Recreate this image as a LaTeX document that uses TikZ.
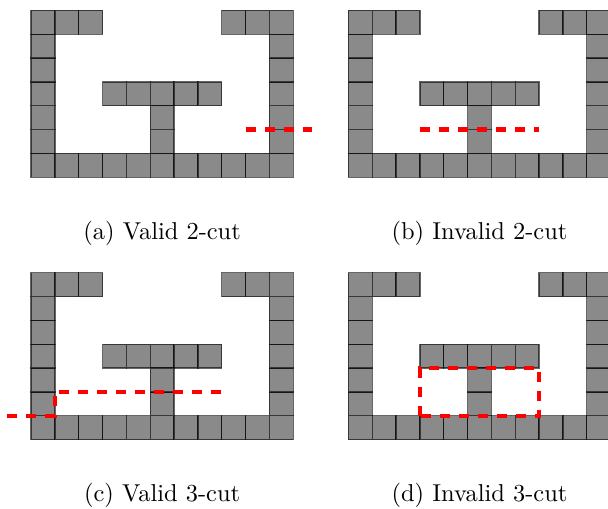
\documentclass[tikz,border=0pt]{standalone}
\tikzset{
  cell/.style={fill={rgb,255:red,138;green,138;blue,138}, draw=black, draw opacity=0.6, line width=0.55pt},
  cut/.style={draw=red, line width=1.8pt, dash pattern=on 4.18pt off 3.76pt},
  subcap/.style={anchor=base, font=\fontsize{10.2}{12}\selectfont}
}
\newcommand{\polygrid}{%
  \foreach \cx in {0,...,10} {\path[cell] (\cx,0) rectangle ++(1,1);}
  \foreach \cy in {1,...,5} {\path[cell] (0,\cy) rectangle ++(1,1); \path[cell] (10,\cy) rectangle ++(1,1);}
  \foreach \cx in {0,1,2,8,9,10} {\path[cell] (\cx,6) rectangle ++(1,1);}
  \foreach \cx in {3,...,7} {\path[cell] (\cx,3) rectangle ++(1,1);}
  \foreach \cy in {1,2} {\path[cell] (5,\cy) rectangle ++(1,1);}
}
\begin{document}
\begin{tikzpicture}[x=0.35cm, y=0.35cm]
  \useasboundingbox (-1.300,-13.869) rectangle (24.198,7.436);
  % (a)
  \begin{scope}
    \polygrid
    \coordinate (a1) at (9,2);
    \coordinate (a2) at (11.8,2);
    \draw[cut] (a1) -- (a2);
    \node[subcap] (capa) at (5.5,-2.6) {(a) Valid 2-cut};
  \end{scope}
  % (b)
  \begin{scope}[shift={(13.31,0)}]
    \polygrid
    \coordinate (b1) at (3,2);
    \coordinate (b2) at (8,2);
    \draw[cut] (b1) -- (b2);
    \node[subcap] (capb) at (5.5,-2.6) {(b) Invalid 2-cut};
  \end{scope}
  % (c)
  \begin{scope}[shift={(0,-11)}]
    \polygrid
    \coordinate (c1) at (-1,1);
    \coordinate (c2) at (1,1);
    \coordinate (c3) at (1,2);
    \coordinate (c4) at (8,2);
    \draw[cut] (c1) -- (c2) -- (c3) -- (c4);
    \node[subcap] (capc) at (5.5,-2.6) {(c) Valid 3-cut};
  \end{scope}
  % (d)
  \begin{scope}[shift={(13.31,-11)}]
    \polygrid
    \coordinate (d1) at (3,1);
    \coordinate (d2) at (8,3);
    \draw[cut] (d1) rectangle (d2);
    \node[subcap] (capd) at (5.5,-2.6) {(d) Invalid 3-cut};
  \end{scope}
\end{tikzpicture}
\end{document}
